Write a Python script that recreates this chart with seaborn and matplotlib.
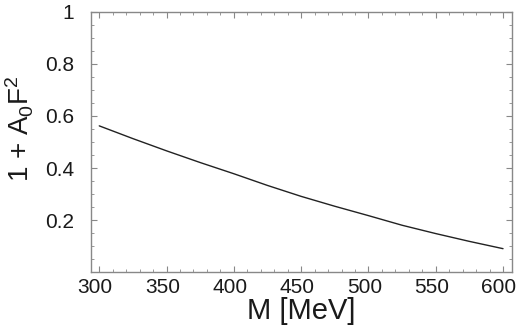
import numpy as np
import pandas as pd
import seaborn as sns
import matplotlib.pyplot as plt
import matplotlib.transforms as mtransforms
from matplotlib.ticker import MultipleLocator

# values
mass = [300, 325, 350, 375, 400, 425, 450, 475, 500, 525, 550, 575, 600]
ratio = [0.562, 0.513, 0.466, 0.421, 0.378, 0.333, 0.291, 0.253, 0.217, 0.180, 0.148, 0.118, 0.090]
xticks = [300, 350, 400, 450, 500, 550, 600]
yticks = [0.2, 0.4, 0.6, 0.8, 1.0]
ytick_labels = ['0.2', '0.4', '0.6', '0.8', '1']

df = pd.DataFrame({'M': mass, 'val': ratio})

sns.set_style('ticks')
plt.rcParams['font.family'] = ['Liberation Sans', 'DejaVu Sans']
plt.rcParams['mathtext.fontset'] = 'custom'
plt.rcParams['mathtext.rm'] = 'Liberation Sans'
plt.rcParams['mathtext.it'] = 'Liberation Sans'

fig = plt.figure(figsize=(5.18, 3.31), dpi=100)
ax = fig.add_axes([0.175, 0.178, 0.813, 0.786])

sns.lineplot(data=df, x='M', y='val', color='#222222', linewidth=1.0, ax=ax)

ax.set_xlim(293.6, 606.5)
ax.set_ylim(0, 1)
ax.set_xticks(xticks)
ax.set_yticks(yticks)
ax.set_yticklabels(ytick_labels)
ax.xaxis.set_minor_locator(MultipleLocator(10))
ax.yaxis.set_minor_locator(MultipleLocator(0.05))
ax.tick_params(which='both', direction='in', top=True, right=True, color='#888888',
               labelsize=15, labelcolor='#1a1a1a')
ax.tick_params(axis='x', pad=4)
ax.tick_params(axis='y', pad=12)
ax.tick_params(which='major', length=4, width=0.8)
ax.tick_params(which='minor', length=2, width=0.6)
for s in ax.spines.values():
    s.set_color('#888888')
    s.set_linewidth(1.0)

# x tick labels sit a few pixels left of their ticks in the original
shift = mtransforms.ScaledTranslation(-0.04, 0, fig.dpi_scale_trans)
for lab in ax.get_xticklabels():
    lab.set_transform(lab.get_transform() + shift)

ax.set_xlabel('M [MeV]', fontsize=21, labelpad=0, color='#1a1a1a')
ax.set_ylabel(r'1 + A$_0$F$^2$', fontsize=20, color='#1a1a1a')
ax.yaxis.set_label_coords(-0.13, 0.55)

fig.savefig('out.png', dpi=100)
